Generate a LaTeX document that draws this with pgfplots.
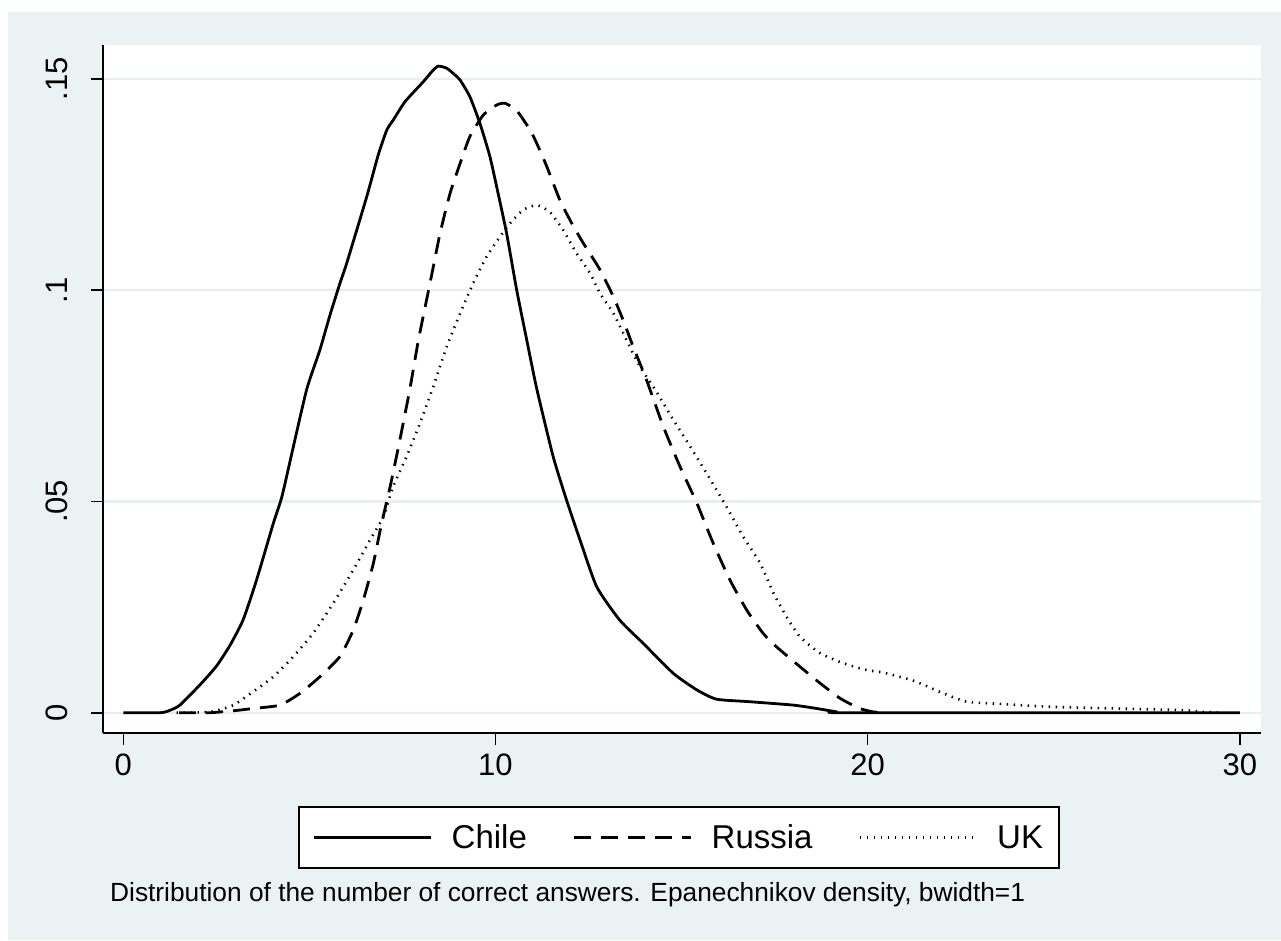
\documentclass[border=0pt]{standalone}
\usepackage{fontspec}
\setmainfont{Liberation Sans}
\usepackage{pgfplots}
\pgfplotsset{compat=1.18}
\definecolor{stbg}{HTML}{EAF2F3}
\definecolor{stgrid}{HTML}{E6EEF0}
\begin{document}
\begin{tikzpicture}[x=1pt,y=1pt]
\fill[white] (0,0) rectangle (1281,940);
\fill[stbg] (8,0) rectangle (1281,928);
\begin{axis}[
  at={(103pt,207pt)}, anchor=south west,
  scale only axis, width=1158pt, height=688pt,
  xmin=-0.546, xmax=30.57, ymin=-0.0048, ymax=0.158,
  axis background/.style={fill=white},
  axis lines=left, axis line style={-, line width=1.8pt, black},
  xtick={0,10,20,30}, xticklabels={0,10,20,30},
  ytick={0,0.05,0.1,0.15}, yticklabels={0,.05,.1,.15},
  tick align=outside, major tick length=12pt,
  tick style={line width=1.6pt, black},
  ymajorgrids, grid style={stgrid, line width=2.2pt},
  xticklabel style={anchor=north, inner sep=0pt, yshift=-9pt, font=\fontsize{31}{37}\selectfont},
  yticklabel style={xshift=-23pt, rotate=90, anchor=base, inner sep=0pt, font=\fontsize{31}{37}\selectfont},
  legend style={at={(0.1684,-0.1061)}, anchor=north west, draw=black, line width=1.8pt, fill=white,
    inner xsep=14pt, inner ysep=16pt, font=\fontsize{33}{39}\selectfont,
    /tikz/column sep=17pt, /tikz/every even column/.append style={column sep=44pt},
    cells={anchor=west, inner sep=0pt}},
  legend columns=3,
  legend image code/.code={\draw[#1] (0pt,0pt) -- (117pt,0pt);},
]
\addplot[black, line width=2.8pt, line join=round, smooth, tension=0.35] coordinates {
(0,0) (1.0,0) (1.26,0.0006) (1.52,0.0018) (2.06,0.0066) (2.5,0.011) (2.87,0.016) (3.22,0.022) (3.58,0.0314) (4.03,0.0448) (4.26,0.0511) (4.57,0.063) (4.93,0.0766) (5.28,0.0858) (5.55,0.094) (5.82,0.1016) (6.0,0.1063) (6.54,0.1221) (6.85,0.132) (7.08,0.1379) (7.25,0.1402) (7.57,0.1446) (8.06,0.1493) (8.3,0.1518) (8.46,0.153) (8.69,0.1525) (8.9,0.151) (9.05,0.1497) (9.31,0.1458) (9.58,0.1395) (9.85,0.1316) (10.07,0.1229) (10.3,0.1134) (10.57,0.1) (10.84,0.0882) (11.11,0.0766) (11.55,0.0606) (11.91,0.0503) (12.27,0.0409) (12.72,0.0298) (13.34,0.0219) (13.97,0.0164) (14.78,0.0093) (15.41,0.0054) (15.94,0.0032) (16.84,0.0026) (18.0,0.0018) (18.63,0.001) (19.17,0.0002) (19.5,0) (30,0)
};
\addlegendentry{Chile}
\addplot[black, line width=2.8pt, dash pattern=on 17pt off 10pt, smooth, tension=0.35] coordinates {
(1.5,0) (2.33,0) (3.0,0.0005) (3.49,0.001) (4.21,0.0018) (4.75,0.0046) (5.28,0.0085) (5.82,0.0133) (6.18,0.0196) (6.45,0.0267) (6.72,0.0354) (6.94,0.0448) (7.17,0.0535) (7.43,0.0645) (7.70,0.0766) (7.93,0.0882) (8.24,0.1016) (8.51,0.1134) (8.78,0.1229) (9.05,0.13) (9.31,0.1363) (9.67,0.1414) (10.03,0.1438) (10.26,0.1442) (10.57,0.1425) (10.93,0.1379) (11.11,0.1347) (11.38,0.1292) (11.73,0.1213) (12.05,0.1158) (12.36,0.1111) (12.81,0.1048) (13.17,0.0984) (13.43,0.0929) (13.70,0.0866) (14.06,0.0787) (14.51,0.0677) (14.96,0.0582) (15.41,0.0496) (15.85,0.0401) (16.30,0.0314) (16.75,0.0243) (17.19,0.0188) (17.55,0.0156) (18.18,0.0109) (18.72,0.007) (19.26,0.0034) (19.79,0.001) (20.15,0.0002) (20.5,0)
};
\addlegendentry{Russia}
\addplot[black, line width=2.6pt, dash pattern=on 1.4pt off 5.6pt, smooth, tension=0.35] coordinates {
(1.43,0) (2.33,0.0002) (2.96,0.0018) (3.49,0.005) (4.03,0.0085) (4.57,0.0133) (5.1,0.0188) (5.64,0.0259) (6.18,0.0338) (6.63,0.0409) (6.99,0.0464) (7.25,0.0535) (7.61,0.0606) (7.97,0.0685) (8.33,0.0772) (8.69,0.0866) (9.05,0.0945) (9.40,0.1016) (9.76,0.1079) (10.12,0.1126) (10.39,0.1158) (10.75,0.119) (11.11,0.1201) (11.46,0.1185) (11.82,0.1142) (12.18,0.1087) (12.54,0.104) (12.81,0.0992) (13.17,0.0945) (13.52,0.0882) (13.88,0.0819) (14.28,0.0766) (14.78,0.0693) (15.23,0.063) (15.67,0.0567) (16.21,0.0487) (16.66,0.0416) (17.11,0.0354) (17.47,0.0283) (17.82,0.0227) (18.18,0.018) (18.72,0.0141) (19.35,0.0117) (19.97,0.0101) (20.42,0.0095) (20.86,0.0085) (21.32,0.0073) (22.03,0.0046) (22.66,0.0026) (23.55,0.0021) (24.9,0.0014) (26.69,0.001) (28.48,0.0006) (29.0,0.0002) (29.5,0)
};
\addlegendentry{UK}
\end{axis}
\node[anchor=base west, inner sep=0pt, font=\fontsize{26.3}{30}\selectfont] at (110,39) {Distribution of the number of correct answers. Epanechnikov density, bwidth=1};
\end{tikzpicture}
\end{document}
